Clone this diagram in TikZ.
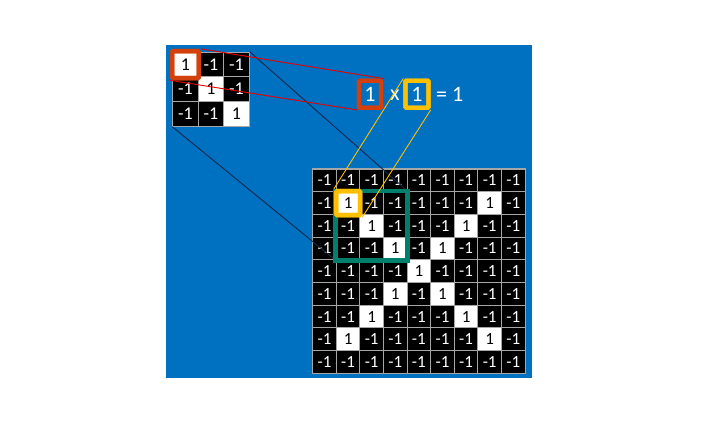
\documentclass[tikz,border=0pt]{standalone}
\usepackage{fontspec}
\setmainfont{Carlito}
\definecolor{bg}{HTML}{0070C0}
\definecolor{gridgrey}{HTML}{A6A6A6}
\definecolor{boxred}{HTML}{D4400C}
\definecolor{linered}{HTML}{E80000}
\definecolor{boxyellow}{HTML}{FFC000}
\definecolor{boxgreen}{HTML}{00806C}
\definecolor{navy}{HTML}{14284A}
\tikzset{
  bigcell/.style={draw=gridgrey, line width=1.1pt, inner sep=0pt, minimum width=23.6pt, minimum height=22.7pt, font=\fontsize{17}{17}\selectfont},
  smallcell/.style={draw=gridgrey, line width=1.1pt, inner sep=0pt, minimum width=25.5pt, minimum height=24.6pt, font=\fontsize{18}{18}\selectfont},
  negb/.style={bigcell, fill=black, text=white},
  posb/.style={bigcell, fill=white, text=black},
  negs/.style={smallcell, fill=black, text=white},
  poss/.style={smallcell, fill=white, text=black},
  hibox/.style={draw=#1, line width=4.4pt, rounded corners=1pt, inner sep=0pt, fill=none},
  midtxt/.style={text=white, inner sep=0pt, font=\fontsize{22}{22}\selectfont},
  thinline/.style={line width=0.9pt}
}
\begin{document}
\begin{tikzpicture}[x=1pt,y=-1pt]
\useasboundingbox (0,0) rectangle (715,426);
\fill[bg] (165.7,45) rectangle (531.7,378.3);
% small grid
\foreach \rowvals [count=\r from 0] in {{1,-1,-1},{-1,1,-1},{-1,-1,1}}{
  \foreach \v [count=\c from 0] in \rowvals {
    \ifnum\v=1 \def\sty{poss}\else\def\sty{negs}\fi
    \node[\sty] (S\r-\c) at ({172.7+25.5*(\c+0.5)},{52.3+24.6*(\r+0.5)}) {\v};
  }}
% big grid
\foreach \rowvals [count=\r from 0] in {
 {-1,-1,-1,-1,-1,-1,-1,-1,-1},
 {-1,1,-1,-1,-1,-1,-1,1,-1},
 {-1,-1,1,-1,-1,-1,1,-1,-1},
 {-1,-1,-1,1,-1,1,-1,-1,-1},
 {-1,-1,-1,-1,1,-1,-1,-1,-1},
 {-1,-1,-1,1,-1,1,-1,-1,-1},
 {-1,-1,1,-1,-1,-1,1,-1,-1},
 {-1,1,-1,-1,-1,-1,-1,1,-1},
 {-1,-1,-1,-1,-1,-1,-1,-1,-1}}{
  \foreach \v [count=\c from 0] in \rowvals {
    \ifnum\v=1 \def\sty{posb}\else\def\sty{negb}\fi
    \node[\sty] (B\r-\c) at ({312.7+23.6*(\c+0.5)},{169+22.7*(\r+0.5)}) {\v};
  }}
% middle equation
\node[hibox=boxred, minimum width=22pt, minimum height=27pt] (mr) at (370,94.2) {};
\node[midtxt] (mrt) at (mr.center) {1};
\node[midtxt] (mx) at (395,95) {x};
\node[hibox=boxyellow, minimum width=23pt, minimum height=27pt] (my) at (417,94.2) {};
\node[midtxt] (myt) at (my.center) {1};
\node[midtxt, anchor=west] (eq) at (436,94.5) {= 1};
% highlight boxes
\node[hibox=boxred, minimum width=26.5pt, minimum height=27pt] (sr) at (S0-0.center) {};
\node[hibox=boxyellow, minimum width=24pt, minimum height=24pt] (by) at (B1-1.center) {};
% connectors
\draw[thinline, navy] (S0-2.north east) -- (B1-3.north east);
\draw[thinline, navy] (S2-0.south west) -- (B3-1.south west);
\draw[line width=4.6pt, boxgreen] (B1-1.north west) rectangle (B3-3.south east);
\draw[thinline, linered] (sr.north east) -- (mr.north east);
\draw[thinline, linered] (sr.south west) -- (mr.south west);
\draw[thinline, boxyellow] (by.north west) -- (my.north west);
\draw[thinline, boxyellow] (by.south east) -- (my.south east);
% redraw boxes over lines
\node[hibox=boxred, minimum width=26.5pt, minimum height=27pt] (sr2) at (S0-0.center) {};
\node[hibox=boxyellow, minimum width=24pt, minimum height=24pt] (by2) at (B1-1.center) {};
\node[hibox=boxred, minimum width=22pt, minimum height=27pt] (mr2) at (mr.center) {};
\node[hibox=boxyellow, minimum width=23pt, minimum height=27pt] (my2) at (my.center) {};
\end{tikzpicture}
\end{document}
